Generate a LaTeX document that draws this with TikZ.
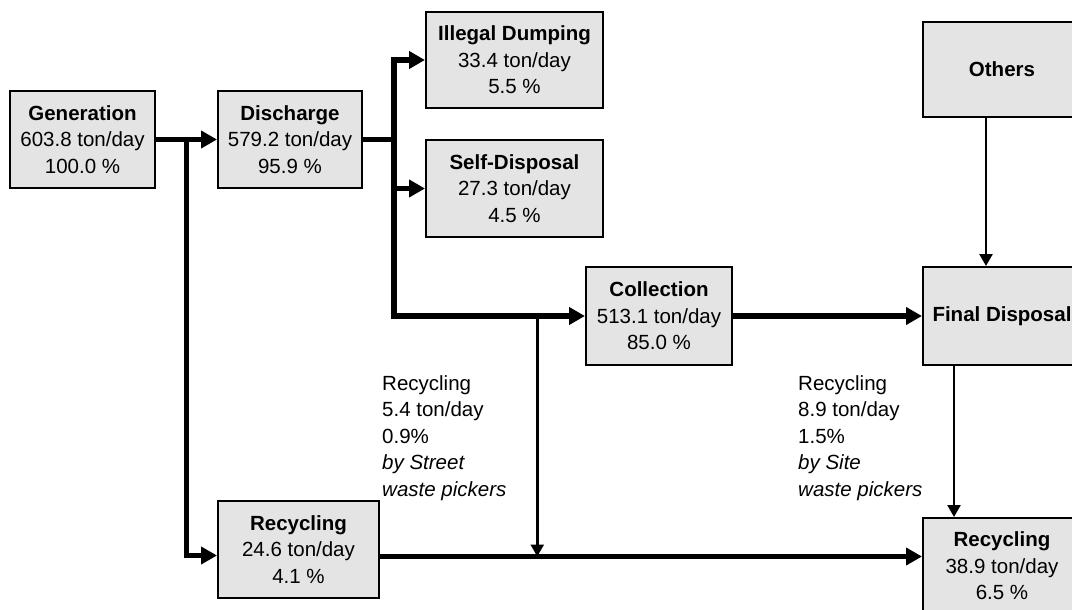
\documentclass[tikz,border=0pt]{standalone}
\usepackage{fontspec}
\setmainfont{Liberation Sans}
\usetikzlibrary{arrows.meta,calc}
\definecolor{boxgray}{HTML}{E4E4E4}
\begin{document}
\begin{tikzpicture}[x=1pt,y=-1pt,
  box/.style={draw=black,line width=2pt,fill=boxgray,align=center,inner sep=0pt,
              font=\fontsize{20.5}{26.5}\selectfont},
  flow/.style={line width=5.5pt,-{Triangle[length=16pt,width=17pt]}},
  feed/.style={line width=2.5pt,-{Triangle[length=12pt,width=13pt]}},
  note/.style={align=left,anchor=north west,inner sep=0pt,
               font=\fontsize{20.5}{26.5}\selectfont}]
\useasboundingbox (0,0) rectangle (1072,610);

% stages of the waste stream
\node[box,minimum width=145pt,minimum height=97pt] (gen) at (82.5,139.5)
  {\textbf{Generation}\\603.8 ton/day\\100.0 \%};
\node[box,minimum width=144pt,minimum height=97pt] (dis) at (290,139.5)
  {\textbf{Discharge}\\579.2 ton/day\\95.9 \%};
\node[box,minimum width=177pt,minimum height=96pt] (ill) at (514.5,60)
  {\textbf{Illegal Dumping}\\33.4 ton/day\\5.5 \%};
\node[box,minimum width=177pt,minimum height=97pt] (self) at (514.5,188.5)
  {\textbf{Self-Disposal}\\27.3 ton/day\\4.5 \%};
\node[box,minimum width=146pt,minimum height=98pt] (col) at (659,316)
  {\textbf{Collection}\\513.1 ton/day\\85.0 \%};
\node[box,minimum width=161pt,minimum height=97pt] (rec1) at (298.5,549.5)
  {\textbf{Recycling}\\24.6 ton/day\\4.1 \%};
\node[box,minimum width=158pt,minimum height=95pt] (oth) at (1002,69.5)
  {\textbf{Others}};
\node[box,minimum width=158pt,minimum height=98pt] (fin) at (1002,316)
  {\textbf{Final Disposal}};
\node[box,minimum width=158pt,minimum height=96pt] (rec2) at (1002,566)
  {\textbf{Recycling}\\38.9 ton/day\\6.5 \%};

% branching points on the main flow lines
\coordinate (j1) at ($(gen.east)!0.5!(dis.west)$);
\coordinate (j2) at ($(dis.east)+(31,0)$);
\coordinate (j3) at ($(j2 |- col.west)!0.75!(col.west)$);
\coordinate (r1in) at ($(rec1.west)+(0,6)$);
\coordinate (r1out) at ($(rec1.east)+(0,7)$);

% main flows
\draw[flow] (gen.east) -- (dis.west);
\draw[flow] (j1) |- (r1in);
\draw[flow] (dis.east) -- (j2) |- (ill.west);
\draw[flow] (j2) |- (col.west);
\draw[flow] (j2 |- self.west) -- (self.west);
\draw[flow] (col.east) -- (fin.west);
\draw[flow] (r1out) -- (r1out -| rec2.west);

% secondary flows
\draw[feed] (j3) -- (j3 |- r1out);
\draw[feed] ($(oth.south west)!0.4!(oth.south east)$) -- ($(fin.north west)!0.4!(fin.north east)$);
\draw[feed] ($(fin.south west)!0.2!(fin.south east)$) -- ($(rec2.north west)!0.2!(rec2.north east)$);

% waste picker annotations
\node[note] (n1) at (382,375)
  {Recycling\\5.4 ton/day\\0.9\%\\\textit{by Street}\\\textit{waste pickers}};
\node[note] (n2) at (798,375)
  {Recycling\\8.9 ton/day\\1.5\%\\\textit{by Site}\\\textit{waste pickers}};
\end{tikzpicture}
\end{document}
